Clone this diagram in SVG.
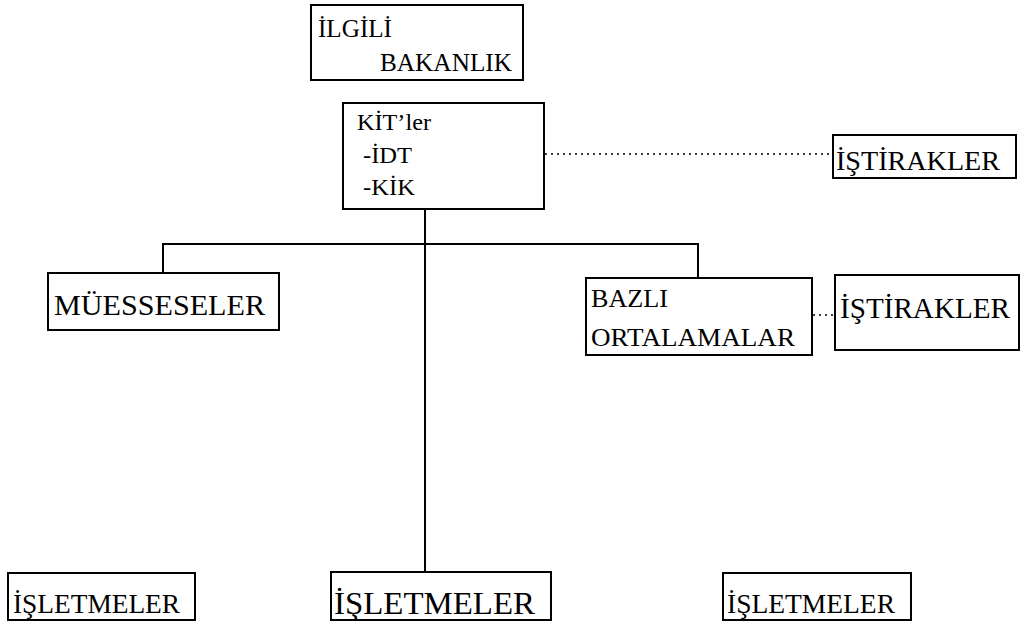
<svg xmlns="http://www.w3.org/2000/svg" width="1032" height="625" viewBox="0 0 1032 625">
<style>
.box{fill:#fff;stroke:#000;stroke-width:2}
.ln{stroke:#000;stroke-width:2;fill:none}
.dot{stroke:#000;stroke-width:1.5;stroke-dasharray:2 4;fill:none}
</style>
<rect width="1032" height="625" fill="#fff"/>
<g id="connectors">
<line class="ln" x1="425" y1="209" x2="425" y2="572"/>
<polyline class="ln" points="163,273 163,244 698,244 698,278"/>
<line class="dot" x1="545" y1="154" x2="833" y2="154"/>
<line class="dot" x1="813" y1="315" x2="835" y2="315"/>
</g>
<g font-family="Liberation Serif" fill="#000">
<g id="bakanlik">
<rect class="box" x="311" y="5" width="212" height="75"/>
<text x="318" y="37" font-size="25" textLength="74" lengthAdjust="spacingAndGlyphs">İLGİLİ</text>
<text x="380" y="71" font-size="25" textLength="132" lengthAdjust="spacingAndGlyphs">BAKANLIK</text>
</g>
<g id="kit">
<rect class="box" x="343" y="103" width="201" height="106"/>
<text x="357" y="130" font-size="24" textLength="74" lengthAdjust="spacingAndGlyphs">KİT’ler</text>
<text x="363" y="163" font-size="24" textLength="49" lengthAdjust="spacingAndGlyphs">-İDT</text>
<text x="363" y="195" font-size="24" textLength="52" lengthAdjust="spacingAndGlyphs">-KİK</text>
</g>
<g id="istirakler1">
<rect class="box" x="833" y="135" width="183" height="43"/>
<text x="836" y="170" font-size="28" textLength="164" lengthAdjust="spacingAndGlyphs">İŞTİRAKLER</text>
</g>
<g id="muesseseler">
<rect class="box" x="48" y="273" width="231" height="57"/>
<text x="54" y="315" font-size="30" textLength="211" lengthAdjust="spacingAndGlyphs">MÜESSESELER</text>
</g>
<g id="bazli">
<rect class="box" x="586" y="278" width="226" height="77"/>
<text x="591" y="307" font-size="26" textLength="77" lengthAdjust="spacingAndGlyphs">BAZLI</text>
<text x="591" y="346" font-size="26" textLength="204" lengthAdjust="spacingAndGlyphs">ORTALAMALAR</text>
</g>
<g id="istirakler2">
<rect class="box" x="835" y="275" width="184" height="75"/>
<text x="840" y="318" font-size="29" textLength="170" lengthAdjust="spacingAndGlyphs">İŞTİRAKLER</text>
</g>
<g id="isletmeler1">
<rect class="box" x="8" y="573" width="187" height="47"/>
<text x="13" y="613" font-size="27" textLength="167" lengthAdjust="spacingAndGlyphs">İŞLETMELER</text>
</g>
<g id="isletmeler2">
<rect class="box" x="331" y="572" width="220" height="48"/>
<text x="334" y="614" font-size="32" textLength="201" lengthAdjust="spacingAndGlyphs">İŞLETMELER</text>
</g>
<g id="isletmeler3">
<rect class="box" x="723" y="573" width="188" height="47"/>
<text x="727" y="613" font-size="27" textLength="168" lengthAdjust="spacingAndGlyphs">İŞLETMELER</text>
</g>
</g>
</svg>
